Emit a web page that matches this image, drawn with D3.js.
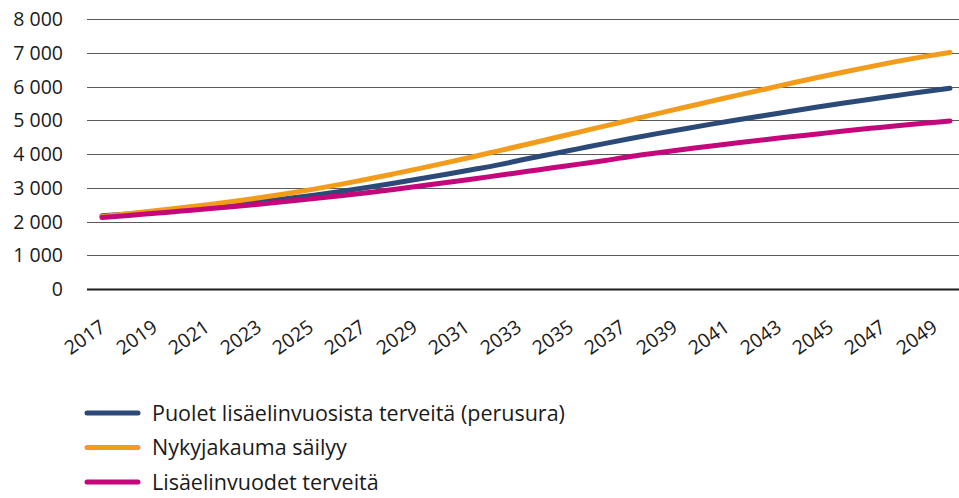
<!DOCTYPE html>
<html>
<head>
<meta charset="utf-8">
<script src="https://cdn.jsdelivr.net/npm/d3@7"></script>
<style>
  body { margin: 0; background: #fff; }
  svg { display: block; font-family: "Open Sans", "DejaVu Sans", sans-serif; }
</style>
</head>
<body>
<div id="chart"></div>
<script>
// Years on the x axis
const years = d3.range(2017, 2050);
const labelYears = years.filter(y => (y - 2017) % 2 === 0);

// Series values
const perusura = [2170, 2225, 2290, 2355, 2425, 2500, 2585, 2680, 2780, 2890, 3010, 3135, 3265, 3400, 3540, 3685, 3850,
    4005, 4160, 4315, 4465, 4610, 4750, 4885, 5015, 5140, 5265, 5390, 5510, 5625, 5735, 5845, 5950];
const nykyjakauma = [2150, 2230, 2320, 2410, 2500, 2600, 2710, 2830, 2960, 3100, 3250, 3410, 3575, 3745, 3920, 4100, 4280,
    4465, 4650, 4835, 5020, 5205, 5385, 5565, 5745, 5920, 6095, 6265, 6430, 6590, 6745, 6885, 7010];
const terveita = [2120, 2180, 2245, 2310, 2375, 2445, 2520, 2600, 2680, 2765, 2855, 2950, 3050, 3155, 3260, 3370, 3480,
    3590, 3700, 3810, 3935, 4040, 4140, 4240, 4335, 4425, 4510, 4595, 4680, 4760, 4840, 4910, 4980];

const seriesNames = ['Puolet lisäelinvuosista terveitä (perusura)', 'Nykyjakauma säilyy', 'Lisäelinvuodet terveitä'];
const seriesColors = ['#2c4a77', '#f39c1c', '#c4077a'];
const yTicks = [0, 1000, 2000, 3000, 4000, 5000, 6000, 7000, 8000];

const series = [perusura, nykyjakauma, terveita].map((vals, i) => ({
    name: seriesNames[i],
    color: seriesColors[i],
    values: vals.map((v, j) => ({ year: years[j], value: v }))
}));

const width = 959, height = 498;
const plot = { left: 87, right: 959, top: 19, bottom: 289 };

const svg = d3.select('#chart')
    .append('svg')
    .attr('width', width)
    .attr('height', height);

const x = d3.scalePoint()
    .domain(years)
    .range([102, 950]);

// labels sit on a slightly tighter spacing than the lines
const xLabel = d3.scalePoint()
    .domain(years)
    .range([107, 939]);

const y = d3.scaleLinear()
    .domain([0, 8000])
    .range([plot.bottom, plot.top]);

const fmt = d3.formatLocale({ decimal: ',', thousands: ' ', grouping: [3], currency: ['', ''] }).format(',d');

// Grid lines
svg.append('g')
    .selectAll('line')
    .data(yTicks)
    .enter()
    .append('line')
    .attr('x1', plot.left)
    .attr('x2', plot.right)
    .attr('y1', d => Math.round(y(d)) + 0.5)
    .attr('y2', d => Math.round(y(d)) + 0.5)
    .attr('stroke', d => d === 0 ? '#1a1a1a' : '#5a5a5a')
    .attr('stroke-width', d => d === 0 ? 2 : 1);

// Y labels
svg.append('g')
    .selectAll('text')
    .data(yTicks)
    .enter()
    .append('text')
    .attr('x', 63)
    .attr('y', d => y(d))
    .attr('dy', '0.36em')
    .attr('text-anchor', 'end')
    .style('font-size', '19.5px')
    .style('fill', '#1a1a1a')
    .text(d => fmt(d));

// X labels, rotated
svg.append('g')
    .selectAll('text')
    .data(labelYears)
    .enter()
    .append('text')
    .attr('text-anchor', 'end')
    .attr('transform', d => `translate(${xLabel(d)},${330}) rotate(-35)`)
    .style('font-size', '19.5px')
    .style('fill', '#1a1a1a')
    .text(d => d);

// Lines
const line = d3.line()
    .x(d => x(d.year))
    .y(d => y(d.value))
    .curve(d3.curveMonotoneX);

svg.append('g')
    .selectAll('path')
    .data(series)
    .enter()
    .append('path')
    .attr('fill', 'none')
    .attr('stroke', d => d.color)
    .attr('stroke-width', 5)
    .attr('stroke-linecap', 'round')
    .attr('stroke-linejoin', 'round')
    .attr('d', d => line(d.values));

// Legend
const legend = svg.append('g')
    .selectAll('g')
    .data(series)
    .enter()
    .append('g')
    .attr('transform', (d, i) => `translate(0,${413 + i * 34.5})`);

legend.append('line')
    .attr('x1', 87)
    .attr('x2', 138)
    .attr('stroke', d => d.color)
    .attr('stroke-width', 5)
    .attr('stroke-linecap', 'round');

legend.append('text')
    .attr('x', 152)
    .attr('dy', '0.36em')
    .style('font-size', '21.5px')
    .style('fill', '#1a1a1a')
    .text(d => d.name);
</script>
</body>
</html>
